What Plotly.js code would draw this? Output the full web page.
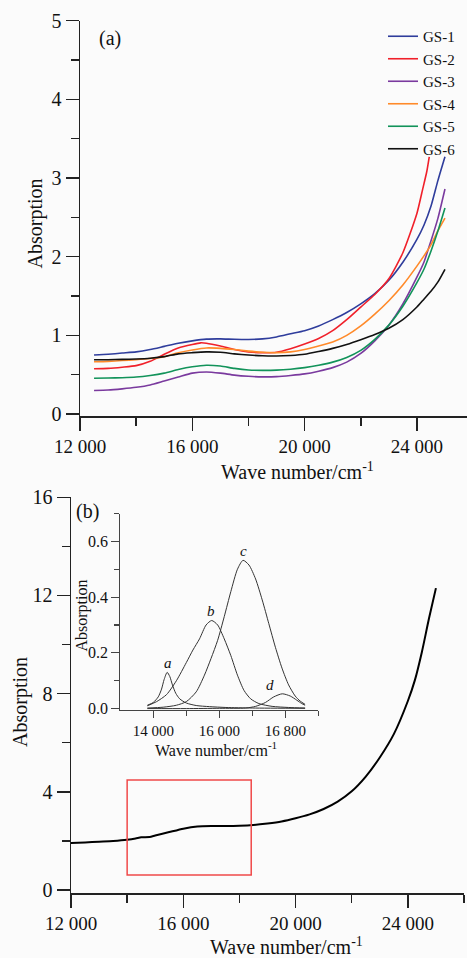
<!DOCTYPE html>
<html><head><meta charset="utf-8">
<script src="https://cdn.plot.ly/plotly-3.0.1.min.js"></script>
<style>html,body{margin:0;padding:0;background:#fbfbfb}</style>
</head><body><div id="chart" style="width:467px;height:958px"></div>
<script>
const W = 467, H = 958;
// ---- panel (a) data ----
const waveA = [12500,13000,13500,14000,14500,15000,15500,16000,16500,17000,17500,18000,18500,19000,19500,20000,20500,21000,21500,22000,22500,23000,23500,24000,24250,24500,24750,25000];
const waveA2 = [12500,13000,13500,14000,14500,15000,15500,16000,16300,16500,17000,17500,18000,18500,19000,19500,20000,20500,21000,21500,22000,22500,23000,23500,24000,24200,24350,24440];
const gs1 = [0.75,0.76,0.775,0.79,0.82,0.86,0.90,0.93,0.952,0.955,0.95,0.948,0.955,0.98,1.02,1.06,1.12,1.20,1.29,1.40,1.53,1.70,1.93,2.22,2.40,2.64,2.97,3.27];
const gs2 = [0.575,0.58,0.595,0.615,0.67,0.76,0.84,0.885,0.905,0.90,0.865,0.82,0.79,0.78,0.785,0.83,0.89,0.96,1.06,1.20,1.36,1.52,1.72,2.05,2.55,2.85,3.08,3.27];
const gs3 = [0.30,0.305,0.32,0.34,0.37,0.42,0.47,0.52,0.535,0.52,0.495,0.48,0.472,0.475,0.49,0.51,0.545,0.59,0.66,0.77,0.93,1.13,1.40,1.74,1.93,2.20,2.49,2.86];
const gs4 = [0.665,0.67,0.68,0.69,0.705,0.73,0.78,0.815,0.84,0.835,0.82,0.80,0.785,0.78,0.79,0.82,0.865,0.915,1.0,1.12,1.27,1.44,1.64,1.88,2.01,2.15,2.33,2.49];
const gs5 = [0.455,0.458,0.462,0.47,0.49,0.52,0.565,0.60,0.62,0.61,0.58,0.56,0.555,0.558,0.57,0.59,0.62,0.66,0.72,0.81,0.95,1.13,1.37,1.67,1.84,2.07,2.33,2.62];
const gs6 = [0.69,0.69,0.695,0.70,0.71,0.73,0.765,0.78,0.79,0.785,0.765,0.75,0.74,0.738,0.745,0.76,0.795,0.835,0.885,0.945,1.01,1.09,1.20,1.36,1.46,1.56,1.68,1.84];
const seriesNames = ["GS-1","GS-2","GS-3","GS-4","GS-5","GS-6"];
const seriesColors = ["#2f3d9c","#f0202a","#7a3a9e","#ff8a2a","#12935a","#111111"];
// ---- panel (b) data ----
const waveB = [12000,12500,13000,13500,14000,14300,14500,14800,15000,15500,16000,16500,17000,17500,18000,18500,19000,19500,20000,20500,21000,21500,22000,22500,23000,23500,24000,24250,24500,24750,25000];
const absB = [1.92,1.94,1.97,2.0,2.05,2.1,2.15,2.16,2.22,2.36,2.5,2.59,2.61,2.61,2.62,2.65,2.71,2.79,2.92,3.08,3.30,3.60,4.02,4.62,5.40,6.35,7.7,8.55,9.7,11.05,12.3];
// ---- inset data (fitted peaks a-d) ----
const waveIa = [13820,14000,14150,14250,14330,14420,14500,14580,14680,14800,15000,15300,15700,16200,17000,18600];
const peakA  = [0.012,0.022,0.042,0.07,0.105,0.13,0.115,0.085,0.055,0.035,0.02,0.011,0.007,0.004,0.002,0.001];
const waveIb = [13820,14100,14400,14700,15000,15200,15400,15600,15770,15950,16150,16350,16550,16750,16950,17200,17600,18100,18600];
const peakB  = [0.01,0.025,0.05,0.1,0.165,0.21,0.25,0.30,0.316,0.30,0.25,0.19,0.12,0.065,0.035,0.018,0.008,0.004,0.002];
const waveIc = [13820,14300,14700,15000,15300,15550,15750,15950,16150,16350,16550,16720,16900,17100,17300,17500,17700,17900,18100,18300,18450,18600];
const peakC  = [0.002,0.005,0.012,0.025,0.06,0.12,0.18,0.245,0.33,0.42,0.50,0.532,0.515,0.465,0.39,0.305,0.22,0.145,0.085,0.045,0.027,0.015];
const waveId = [13820,15000,16000,16800,17100,17400,17650,17909,18150,18350,18500,18600];
const peakD  = [0.0,0.0,0.001,0.002,0.008,0.022,0.042,0.053,0.045,0.03,0.018,0.012];
const peakLabels = ["a","b","c","d"];
// ---- ticks ----
const mainXTicks = [12000,16000,20000,24000];
const mainXText = ["12 000","16 000","20 000","24 000"];
const mainXMinor = [14000,18000,22000,26000];
const insetXTicks = [14000,16000,18000];
const insetXText = ["14 000","16 000","16 800"];
const insetXMinor = [15000,17000,19000];

const serif = "Liberation Serif, Times New Roman, serif";
const axCol = "#222";
const px = v => v / W, py = v => 1 - v / H;

const ysA = [gs1, gs2, gs3, gs4, gs5, gs6];
const traces = ysA.map((y, i) => ({
  x: i === 1 ? waveA2 : waveA, y: y, name: seriesNames[i], type: "scatter", mode: "lines",
  line: {color: seriesColors[i], width: 1.6, shape: "spline", smoothing: 0.6},
  xaxis: "x", yaxis: "y"
}));
traces.push({x: waveB, y: absB, type: "scatter", mode: "lines", showlegend: false,
  line: {color: "#000", width: 2, shape: "spline", smoothing: 0.6}, xaxis: "x2", yaxis: "y2"});
[[waveIa, peakA], [waveIb, peakB], [waveIc, peakC], [waveId, peakD]].forEach(p => {
  traces.push({x: p[0], y: p[1], type: "scatter", mode: "lines", showlegend: false,
    line: {color: "#333", width: 1, shape: "spline", smoothing: 0.7}, xaxis: "x3", yaxis: "y3"});
});

function mainX(domain, range, anchor) {
  return {domain: domain, range: range, anchor: anchor, showline: true, linecolor: axCol, linewidth: 1.5,
    ticks: "outside", ticklen: 13, tickwidth: 1.5, tickcolor: axCol, tickmode: "array",
    tickvals: mainXTicks, ticktext: mainXText, showgrid: false, zeroline: false,
    tickfont: {family: serif, size: 19, color: "#111"},
    minor: {tickmode: "array", tickvals: mainXMinor, ticks: "outside", ticklen: 8, tickwidth: 1.5, tickcolor: axCol, showgrid: false}};
}
function mainY(domain, range, anchor, dtick, minorDtick) {
  return {domain: domain, range: range, anchor: anchor, showline: true, linecolor: axCol, linewidth: 1.5,
    ticks: "outside", ticklen: 13, tickwidth: 1.5, tickcolor: axCol, tickmode: "linear", tick0: 0, dtick: dtick,
    showgrid: false, zeroline: false, tickfont: {family: serif, size: 20, color: "#111"},
    minor: {tick0: 0, dtick: minorDtick, ticks: "outside", ticklen: 8, tickwidth: 1.5, tickcolor: axCol, showgrid: false}};
}
function note(text, x, y, size, angle) {
  return {text: text, x: px(x), y: py(y), xref: "paper", yref: "paper", xanchor: "center", yanchor: "middle",
    textangle: angle || 0, showarrow: false, font: {family: serif, size: size, color: "#111"}};
}
function peakNote(i, x, y) {
  return {text: "<i>" + peakLabels[i] + "</i>", x: x, y: y, xref: "x3", yref: "y3", xanchor: "center", yanchor: "middle",
    showarrow: false, font: {family: serif, size: 15, color: "#111"}};
}

const topX0 = 80, topXScale = 112.3 / 4000;
const layout = {
  width: W, height: H, margin: {l: 0, r: 0, t: 0, b: 0},
  paper_bgcolor: "#fbfbfb", plot_bgcolor: "rgba(0,0,0,0)",
  showlegend: true,
  legend: {x: px(383), y: py(20), xanchor: "left", yanchor: "top", bgcolor: "rgba(0,0,0,0)",
    font: {family: serif, size: 15, color: "#111"}, tracegroupgap: 0, itemwidth: 30},
  xaxis: mainX([px(80), 1], [12000, 12000 + (W - topX0) / topXScale], "y"),
  yaxis: mainY([py(416), py(20.7)], [-0.025, 5], "x", 1, 0.5),
  xaxis2: mainX([px(71), px(464)], [12000, 26000], "y2"),
  yaxis2: mainY([py(893), py(497.3)], [-0.122, 16], "x2", 4, 2),
  xaxis3: {domain: [px(120.3), px(318.3)], range: [13000, 19000], anchor: "y3", showline: true, linecolor: "#444", linewidth: 1.2,
    ticks: "outside", ticklen: 7, tickwidth: 1.2, tickcolor: "#444", tickmode: "array", tickvals: insetXTicks, ticktext: insetXText,
    showgrid: false, zeroline: false, tickfont: {family: serif, size: 15, color: "#111"},
    minor: {tickmode: "array", tickvals: insetXMinor, ticks: "outside", ticklen: 5, tickwidth: 1.2, tickcolor: "#444", showgrid: false}},
  yaxis3: {domain: [py(709.7), py(513.5)], range: [-0.004, 0.7], anchor: "x3", showline: true, linecolor: "#444", linewidth: 1.2,
    ticks: "outside", ticklen: 8, tickwidth: 1.2, tickcolor: "#444", tickmode: "linear", tick0: 0, dtick: 0.2, tickformat: ".1f",
    showgrid: false, zeroline: false, tickfont: {family: serif, size: 16, color: "#111"},
    minor: {tick0: 0.1, dtick: 0.2, ticks: "outside", ticklen: 5, tickwidth: 1.2, tickcolor: "#444", showgrid: false}},
  shapes: [{type: "rect", xref: "x2", yref: "y2", x0: 14000, x1: 18420, y0: 0.61, y1: 4.48,
    line: {color: "#f04a4a", width: 1.5}, fillcolor: "rgba(0,0,0,0)"}],
  annotations: [
    note("(a)", 110, 38, 20),
    note("(b)", 87, 512, 20),
    note("Absorption", 34.5, 224, 20, -90),
    note("Absorption", 20.5, 702.5, 20, -90),
    note("Absorption", 81.5, 616, 16, -90),
    note("Wave number/cm<sup>-1</sup>", 297, 471, 20),
    note("Wave number/cm<sup>-1</sup>", 286, 946, 20),
    note("Wave number/cm<sup>-1</sup>", 216, 749, 16),
    peakNote(0, 14455, 0.164),
    peakNote(1, 15743, 0.351),
    peakNote(2, 16727, 0.566),
    peakNote(3, 17536, 0.084)
  ]
};
Plotly.newPlot("chart", traces, layout, {staticPlot: true, displayModeBar: false});
</script>
</body></html>
